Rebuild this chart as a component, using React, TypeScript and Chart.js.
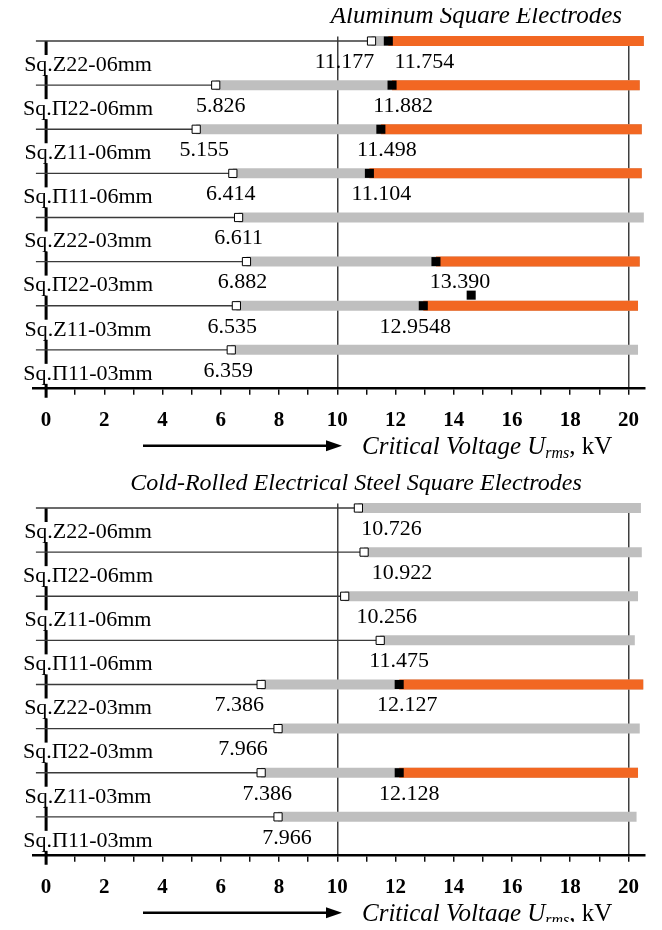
import React, { useEffect, useRef } from 'react';
import { Chart, registerables } from 'chart.js';

Chart.register(...registerables);

// ---------------- Data ----------------
const ROW_LABELS = [
  'Sq.Z22-06mm',
  'Sq.Π22-06mm',
  'Sq.Z11-06mm',
  'Sq.Π11-06mm',
  'Sq.Z22-03mm',
  'Sq.Π22-03mm',
  'Sq.Z11-03mm',
  'Sq.Π11-03mm',
];

// Aluminum square electrodes
const AL_ONSET = [11.177, 5.826, 5.155, 6.414, 6.611, 6.882, 6.535, 6.359];
const AL_ONSET_TEXT = ['11.177', '5.826', '5.155', '6.414', '6.611', '6.882', '6.535', '6.359'];
const AL_BREAK = [11.754, 11.882, 11.498, 11.104, null, 13.39, 12.9548, null];
const AL_BREAK_TEXT = ['11.754', '11.882', '11.498', '11.104', null, '13.390', '12.9548', null];
const AL_END = [20.53, 20.39, 20.46, 20.46, 20.53, 20.39, 20.33, 20.33];
const AL_STRAY = [{ x: 14.6, y: 5.76 }];

// Cold-rolled electrical steel square electrodes
const ST_ONSET = [10.726, 10.922, 10.256, 11.475, 7.386, 7.966, 7.386, 7.966];
const ST_ONSET_TEXT = ['10.726', '10.922', '10.256', '11.475', '7.386', '7.966', '7.386', '7.966'];
const ST_BREAK = [null, null, null, null, 12.127, null, 12.128, null];
const ST_BREAK_TEXT = [null, null, null, null, '12.127', null, '12.128', null];
const ST_END = [20.43, 20.46, 20.33, 20.22, 20.51, 20.39, 20.33, 20.28];
const ST_STRAY: { x: number; y: number }[] = [];

const LEAD_START = -0.35;
const X_MIN = -0.45;
const X_MAX = 20.57;
const X_LABELED_TICKS = [0, 2, 4, 6, 8, 10, 12, 14, 16, 18, 20];
const X_GRID_VALUES = [10, 20];

// ---------------- Styling ----------------
const FONT = "'Liberation Serif', 'Times New Roman', serif";
const GRAY = '#BFBFBF';
const ORANGE = '#F26722';
const LEAD = '#3a3a3a';

// horizontal label nudges in px (layout only)
const AL_ONSET_DX = [-27, 5, 8, -2, 0, -4, -4, -3];
const AL_BREAK_DX = [36, 11, 6, 12, 0, 24, -8, 0];
const ST_ONSET_DX = [33, 38, 42, 19, -22, -35, 6, 9];
const ST_BREAK_DX = [0, 0, 0, 0, 8, 0, 10, 0];

type PanelCfg = {
  title: string;
  titleSize: number;
  titleAlign: 'right' | 'center';
  titleX: number;
  onset: number[];
  onsetText: string[];
  onsetDx: number[];
  brk: (number | null)[];
  brkText: (string | null)[];
  brkDx: number[];
  end: number[];
  stray: { x: number; y: number }[];
  height: number;
};

const PANELS: PanelCfg[] = [
  {
    title: 'Aluminum Square Electrodes',
    titleSize: 25,
    titleAlign: 'right',
    titleX: 622,
    onset: AL_ONSET,
    onsetText: AL_ONSET_TEXT,
    onsetDx: AL_ONSET_DX,
    brk: AL_BREAK,
    brkText: AL_BREAK_TEXT,
    brkDx: AL_BREAK_DX,
    end: AL_END,
    stray: AL_STRAY,
    height: 467,
  },
  {
    title: 'Cold-Rolled Electrical Steel Square Electrodes',
    titleSize: 24,
    titleAlign: 'center',
    titleX: 356,
    onset: ST_ONSET,
    onsetText: ST_ONSET_TEXT,
    onsetDx: ST_ONSET_DX,
    brk: ST_BREAK,
    brkText: ST_BREAK_TEXT,
    brkDx: ST_BREAK_DX,
    end: ST_END,
    stray: ST_STRAY,
    height: 463,
  },
];

function buildDatasets(p: PanelCfg) {
  const ds: any[] = [];
  ROW_LABELS.forEach((_, i) => {
    ds.push({
      data: [
        { x: LEAD_START, y: i },
        { x: p.onset[i], y: i },
      ],
      showLine: true,
      borderColor: LEAD,
      borderWidth: 1.3,
      pointRadius: 0,
      clip: false,
      order: 4,
    });
    ds.push({
      data: [
        { x: p.onset[i], y: i },
        { x: p.end[i], y: i },
      ],
      showLine: true,
      borderColor: GRAY,
      borderWidth: 10,
      borderCapStyle: 'butt',
      pointRadius: 0,
      clip: false,
      order: 3,
    });
    const b = p.brk[i];
    if (b != null) {
      ds.push({
        data: [
          { x: b, y: i },
          { x: p.end[i], y: i },
        ],
        showLine: true,
        borderColor: ORANGE,
        borderWidth: 10,
        borderCapStyle: 'butt',
        pointRadius: 0,
        clip: false,
        order: 2,
      });
    }
  });
  ds.push({
    data: p.onset.map((v, i) => ({ x: v, y: i })),
    pointStyle: 'rect',
    pointRadius: 5.8,
    backgroundColor: '#ffffff',
    borderColor: '#000000',
    borderWidth: 1,
    clip: false,
    order: 1,
  });
  const blacks: { x: number; y: number }[] = [];
  p.brk.forEach((v, i) => {
    if (v != null) blacks.push({ x: v, y: i });
  });
  p.stray.forEach((s) => blacks.push(s));
  ds.push({
    data: blacks,
    pointStyle: 'rect',
    pointRadius: 6.4,
    backgroundColor: '#000000',
    borderColor: '#000000',
    borderWidth: 0,
    clip: false,
    order: 0,
  });
  return ds;
}

function makeOverlay(p: PanelCfg) {
  return {
    id: 'overlay',
    beforeDatasetsDraw(chart: any) {
      const { ctx, scales, chartArea } = chart;
      const x0 = scales.x.getPixelForValue(0);
      ctx.save();
      ctx.strokeStyle = '#000';
      ctx.lineWidth = 3;
      ctx.beginPath();
      ctx.moveTo(x0, scales.y.getPixelForValue(0));
      ctx.lineTo(x0, chartArea.bottom + 10);
      ctx.stroke();
      ctx.restore();
    },
    afterDatasetsDraw(chart: any) {
      const { ctx, scales, chartArea } = chart;
      const xs = scales.x;
      const ys = scales.y;
      ctx.save();
      // row labels with white boxes
      ctx.font = `22px ${FONT}`;
      ctx.textAlign = 'center';
      ctx.textBaseline = 'middle';
      ROW_LABELS.forEach((lab, i) => {
        const cy = ys.getPixelForValue(i) + 24;
        const cx = 88;
        const w = ctx.measureText(lab).width;
        ctx.fillStyle = '#fff';
        ctx.fillRect(cx - w / 2 - 2, cy - 10, w + 4, 20);
        ctx.fillStyle = '#000';
        ctx.fillText(lab, cx, cy);
      });
      // value labels
      ROW_LABELS.forEach((_, i) => {
        const yy = ys.getPixelForValue(i) + 21;
        ctx.fillText(p.onsetText[i], xs.getPixelForValue(p.onset[i]) + p.onsetDx[i], yy);
        const b = p.brk[i];
        const bt = p.brkText[i];
        if (b != null && bt) {
          ctx.fillText(bt, xs.getPixelForValue(b) + p.brkDx[i], yy);
        }
      });
      // title
      ctx.font = `italic ${p.titleSize}px ${FONT}`;
      ctx.textAlign = p.titleAlign;
      ctx.textBaseline = 'alphabetic';
      ctx.fillText(p.title, p.titleX, chartArea.top - 14);
      // arrow
      const ay = chartArea.bottom + 58;
      ctx.strokeStyle = '#000';
      ctx.lineWidth = 2.5;
      ctx.beginPath();
      ctx.moveTo(143, ay);
      ctx.lineTo(328, ay);
      ctx.stroke();
      ctx.beginPath();
      ctx.moveTo(326, ay - 5.5);
      ctx.lineTo(342, ay);
      ctx.lineTo(326, ay + 5.5);
      ctx.closePath();
      ctx.fillStyle = '#000';
      ctx.fill();
      // axis title
      let tx = 362;
      const by = chartArea.bottom + 66;
      ctx.textAlign = 'left';
      ctx.font = `italic 25px ${FONT}`;
      const t1 = 'Critical Voltage U';
      ctx.fillText(t1, tx, by);
      tx += ctx.measureText(t1).width;
      ctx.font = `italic 16px ${FONT}`;
      ctx.fillText('rms', tx, by + 4);
      tx += ctx.measureText('rms').width;
      ctx.font = `25px ${FONT}`;
      ctx.fillText(', kV', tx, by);
      ctx.restore();
    },
  };
}

function Panel({ cfg }: { cfg: PanelCfg }) {
  const ref = useRef<HTMLCanvasElement>(null);
  useEffect(() => {
    const chart = new Chart(ref.current as HTMLCanvasElement, {
      type: 'scatter',
      data: { datasets: buildDatasets(cfg) },
      options: {
        responsive: false,
        animation: false,
        devicePixelRatio: 1,
        events: [],
        layout: { padding: { left: 33, right: 17, top: 36.6, bottom: cfg.height - 467 + 21 } },
        plugins: {
          legend: { display: false },
          tooltip: { enabled: false },
          title: { display: false },
        },
        scales: {
          x: {
            type: 'linear',
            position: 'bottom',
            min: X_MIN,
            max: X_MAX,
            border: { display: true, color: '#000', width: 2.5 },
            grid: {
              drawOnChartArea: true,
              drawTicks: true,
              tickLength: 7,
              lineWidth: 1.5,
              tickWidth: 1.4,
              tickColor: '#000',
              color: (c: any) =>
                c.tick && X_GRID_VALUES.includes(Math.round(c.tick.value * 1000) / 1000)
                  ? '#3f3f3f'
                  : 'rgba(0,0,0,0)',
            },
            ticks: {
              stepSize: 1,
              includeBounds: false,
              autoSkip: false,
              maxRotation: 0,
              minRotation: 0,
              padding: 13,
              color: '#000',
              font: { family: FONT, size: 21, weight: 'bold', lineHeight: 1.2 },
              callback: (v: any) => {
                const n = Math.round(Number(v) * 1000) / 1000;
                return X_LABELED_TICKS.includes(n) ? String(n) : '';
              },
            },
          },
          y: {
            type: 'linear',
            display: false,
            reverse: true,
            min: -0.1,
            max: 7.86,
          },
        },
      } as any,
      plugins: [makeOverlay(cfg)],
    });
    return () => chart.destroy();
  }, [cfg]);
  return (
    <canvas
      ref={ref}
      width={662}
      height={cfg.height}
      style={{ display: 'block', width: 662, height: cfg.height }}
    />
  );
}

export default function App() {
  return (
    <div style={{ margin: -8, width: 662, height: 930, background: '#fff', overflow: 'hidden' }}>
      {PANELS.map((p, i) => (
        <Panel key={i} cfg={p} />
      ))}
    </div>
  );
}
